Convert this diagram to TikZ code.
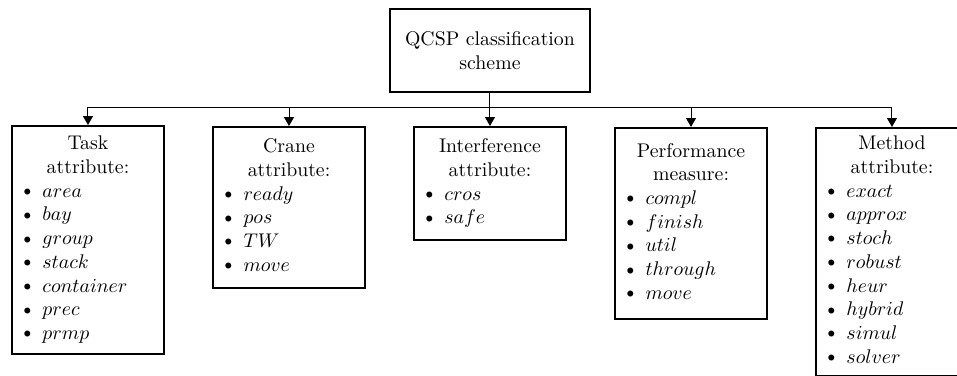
\documentclass[tikz,border=0pt]{standalone}
\usepackage{tikz}
\usetikzlibrary{arrows.meta}
\def\itm#1{$\vcenter{\hbox{\scriptsize$\bullet$}}\;\;#1$}

\begin{document}
\begin{tikzpicture}[
		attrbox/.style={draw, line width=1pt, anchor=north, text width=65.3pt, inner xsep=6pt, inner ysep=3.6pt,
			execute at begin node=\strut, execute at end node=\strut},
		link/.style={line width=0.5pt, -{Triangle[length=4.5pt, width=5pt]}}
	]
			%%%%% START %%%%%
			
			\useasboundingbox (0, 0) rectangle (17, -6.679);
			
			\node[draw, line width=1pt, minimum width=3.553cm, minimum height=1.474cm, align=center] (root) at (8.704, -0.897) {QCSP classification\\scheme};
			\coordinate (bus) at (8.704, -1.918);
			
			\node[attrbox] (task) at (1.563, -2.221) {\centering Task\\attribute:\par\raggedright
				\itm{area}\\ \itm{bay}\\ \itm{group}\\ \itm{stack}\\ \itm{container}\\ \itm{prec}\\ \itm{prmp}};
			
			\node[attrbox, inner ysep=4.6pt] (crane) at (5.134, -2.238) {\centering Crane\\attribute:\par\raggedright
				\itm{ready}\\ \itm{pos}\\ \itm{TW}\\ \itm{move}};
			
			\node[attrbox, inner ysep=4.6pt] (inter) at (8.704, -2.238) {\centering Interference\\attribute:\par\raggedright
				\itm{cros}\\ \itm{safe}};
			
			\node[attrbox, inner ysep=6.3pt] (perf) at (12.275, -2.255) {\centering Performance\\measure:\par\raggedright
				\itm{compl}\\ \itm{finish}\\ \itm{util}\\ \itm{through}\\ \itm{move}};
			
			\node[attrbox, inner ysep=2.6pt] (method) at (15.845, -2.255) {\centering Method\\attribute:\par\raggedright
				\itm{exact}\\ \itm{approx}\\ \itm{stoch}\\ \itm{robust}\\ \itm{heur}\\ \itm{hybrid}\\ \itm{simul}\\ \itm{solver}};
			
			\draw[link] (root.south) -- (inter.north);
			\foreach \n in {task, crane, perf, method}
				\draw[link] (bus) -| (\n.north);
			
			%%%%% END %%%%%
\end{tikzpicture}
\end{document}
